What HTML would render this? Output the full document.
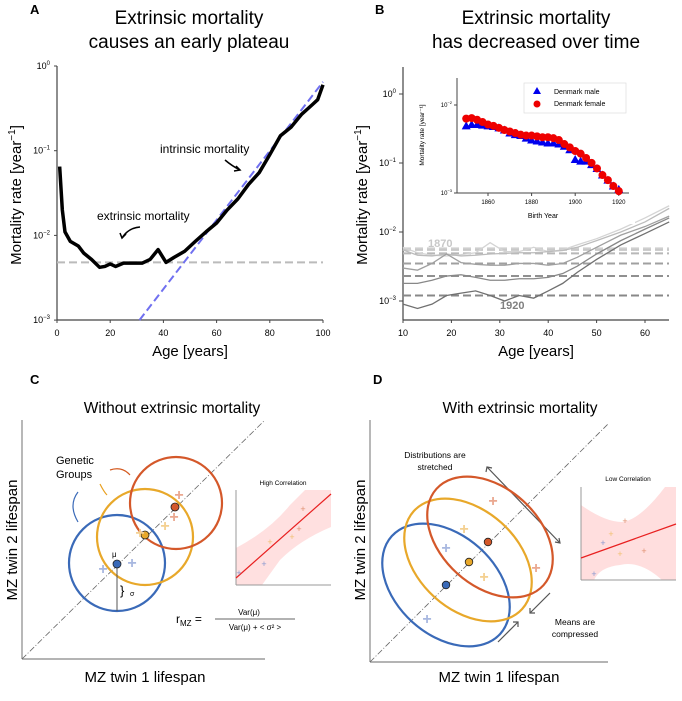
<!DOCTYPE html>
<html><head><meta charset="utf-8"><style>
body{margin:0;background:#fff;}
svg{display:block;font-family:"Liberation Sans",sans-serif;}
</style></head><body>
<svg id="fig" width="682" height="701" viewBox="0 0 682 701" xmlns="http://www.w3.org/2000/svg">
<g id="pa">
<text x="30" y="14" font-size="13" font-weight="bold">A</text>
<text x="189" y="24" font-size="19" text-anchor="middle">Extrinsic mortality</text>
<text x="189" y="48" font-size="19" text-anchor="middle">causes an early plateau</text>
<text transform="translate(21,195) rotate(-90)" font-size="15" text-anchor="middle">Mortality rate [year<tspan font-size="10" dy="-6">−1</tspan><tspan dy="6">]</tspan></text>
<text x="190" y="356" font-size="15" text-anchor="middle">Age [years]</text>
<text x="160" y="153" font-size="12">intrinsic mortality</text>
<text x="97" y="220" font-size="12">extrinsic mortality</text>
<path d="M225,160 Q232,166 240,170" stroke="#000" stroke-width="1.5" fill="none"/>
<path d="M236,166 L240,170 L234,171" stroke="#000" stroke-width="1.5" fill="none"/>
<path d="M140,227 Q128,228 122,238" stroke="#000" stroke-width="1.5" fill="none"/>
<path d="M120,233 L122,238 L126,234" stroke="#000" stroke-width="1.5" fill="none"/>
</g>
<g id="pb">
<text x="375" y="14" font-size="13" font-weight="bold">B</text>
<text x="536" y="24" font-size="19" text-anchor="middle">Extrinsic mortality</text>
<text x="536" y="48" font-size="19" text-anchor="middle">has decreased over time</text>
<text transform="translate(367,195) rotate(-90)" font-size="15" text-anchor="middle">Mortality rate [year<tspan font-size="10" dy="-6">−1</tspan><tspan dy="6">]</tspan></text>
<text x="536" y="356" font-size="15" text-anchor="middle">Age [years]</text>
</g>
<g id="pc">
<text x="30" y="384" font-size="13" font-weight="bold">C</text>
<text x="172" y="413" font-size="15.5" text-anchor="middle">Without extrinsic mortality</text>
<line x1="22" y1="420" x2="22" y2="659" stroke="#888" stroke-width="1.2"/>
<line x1="22" y1="659" x2="265" y2="659" stroke="#888" stroke-width="1.2"/>
<line x1="22" y1="659" x2="265" y2="420" stroke="#666" stroke-width="0.8" stroke-dasharray="6,2,1,2"/>
<text transform="translate(17,540) rotate(-90)" font-size="15" text-anchor="middle">MZ twin 2 lifespan</text>
<text x="145" y="682" font-size="15" text-anchor="middle">MZ twin 1 lifespan</text>
<text x="56" y="464" font-size="11">Genetic</text>
<text x="56" y="478" font-size="11">Groups</text>
<path d="M110,470 Q122,466 130,475" stroke="#d45a20" stroke-width="1.2" fill="none"/>
<path d="M100,484 Q104,492 107,495" stroke="#e8a020" stroke-width="1.2" fill="none"/>
<path d="M78,492 Q68,505 78,522" stroke="#3a6ab8" stroke-width="1.2" fill="none"/>
<circle cx="117" cy="563" r="48" fill="none" stroke="#3a6ab8" stroke-width="2.2"/>
<circle cx="145" cy="537" r="48" fill="none" stroke="#e8a82a" stroke-width="2.2"/>
<circle cx="176" cy="503" r="46" fill="none" stroke="#d4582a" stroke-width="2.2"/>
<line x1="117" y1="565" x2="117" y2="611" stroke="#555" stroke-width="1"/>
<text x="120" y="595" font-size="13">}</text>
<text x="130" y="596" font-size="7">σ</text>
<text x="112" y="557" font-size="8">μ</text>
<circle cx="117" cy="564" r="4" fill="#3a6ab8" stroke="#222" stroke-width="0.8"/>
<circle cx="145" cy="535" r="4" fill="#e8a82a" stroke="#222" stroke-width="0.8"/>
<circle cx="175" cy="507" r="4" fill="#d4582a" stroke="#222" stroke-width="0.8"/>
<g font-size="16" font-weight="bold" text-anchor="middle">
<text x="103" y="574" fill="#a8b8e0">+</text><text x="132" y="568" fill="#a8b8e0">+</text>
<text x="140" y="538" fill="#f4d090">+</text><text x="165" y="531" fill="#f4d090">+</text>
<text x="174" y="522" fill="#eaa890">+</text><text x="179" y="500" fill="#eaa890">+</text>
</g>
<text x="283" y="485" font-size="6.5" text-anchor="middle">High Correlation</text>
<path d="M236,548 Q270,530 290,505 L305,490 L331,490 L331,527 Q300,540 280,560 L262,585 L236,585 Z" fill="#ffd8d8" opacity="0.8"/>
<line x1="236" y1="490" x2="236" y2="585" stroke="#999" stroke-width="1"/>
<line x1="236" y1="585" x2="331" y2="585" stroke="#999" stroke-width="1"/>
<line x1="236" y1="578" x2="331" y2="494" stroke="#e82020" stroke-width="1.2"/>
<g font-size="9" text-anchor="middle">
<text x="239" y="576" fill="#8898d0">+</text><text x="264" y="567" fill="#8898d0">+</text>
<text x="270" y="545" fill="#f0c070">+</text><text x="292" y="540" fill="#f0c070">+</text>
<text x="299" y="532" fill="#e09070">+</text><text x="303" y="512" fill="#e09070">+</text>
</g>
<text x="176" y="623" font-size="12">r<tspan font-size="8" dy="3">MZ</tspan><tspan dy="-3"> =</tspan></text>
<text x="249" y="615" font-size="8" text-anchor="middle">Var(μ)</text>
<line x1="215" y1="619" x2="295" y2="619" stroke="#333" stroke-width="0.8"/>
<text x="255" y="630" font-size="8" text-anchor="middle">Var(μ) +  &lt; σ² &gt;</text>
</g>
<g id="pd">
<text x="373" y="384" font-size="13" font-weight="bold">D</text>
<text x="520" y="413" font-size="15.5" text-anchor="middle">With extrinsic mortality</text>
<line x1="370" y1="420" x2="370" y2="662" stroke="#888" stroke-width="1.2"/>
<line x1="370" y1="662" x2="608" y2="662" stroke="#888" stroke-width="1.2"/>
<line x1="370" y1="662" x2="608" y2="424" stroke="#666" stroke-width="0.8" stroke-dasharray="6,2,1,2"/>
<text transform="translate(365,540) rotate(-90)" font-size="15" text-anchor="middle">MZ twin 2 lifespan</text>
<text x="499" y="682" font-size="15" text-anchor="middle">MZ twin 1 lifespan</text>
<text x="435" y="458" font-size="8.5" text-anchor="middle">Distributions are</text>
<text x="435" y="470" font-size="8.5" text-anchor="middle">stretched</text>
<line x1="487" y1="467" x2="560" y2="543" stroke="#555" stroke-width="1.2"/>
<path d="M486,472 L487,467 L492,468 M555,542 L560,543 L559,538" stroke="#555" stroke-width="1.2" fill="none"/>
<text x="575" y="625" font-size="8.5" text-anchor="middle">Means are</text>
<text x="575" y="637" font-size="8.5" text-anchor="middle">compressed</text>
<line x1="550" y1="593" x2="530" y2="613" stroke="#555" stroke-width="1.2"/>
<path d="M530,608 L530,613 L535,613" stroke="#555" stroke-width="1.2" fill="none"/>
<line x1="498" y1="642" x2="518" y2="622" stroke="#555" stroke-width="1.2"/>
<path d="M513,622 L518,622 L518,627" stroke="#555" stroke-width="1.2" fill="none"/>
<ellipse cx="446" cy="585" rx="73" ry="50" transform="rotate(42 446 585)" fill="none" stroke="#3a6ab8" stroke-width="2.2"/>
<ellipse cx="468" cy="560" rx="73" ry="50" transform="rotate(42 468 560)" fill="none" stroke="#e8a82a" stroke-width="2.2"/>
<ellipse cx="490" cy="537" rx="72" ry="49" transform="rotate(42 490 537)" fill="none" stroke="#d4582a" stroke-width="2.2"/>
<circle cx="446" cy="585" r="3.8" fill="#3a6ab8" stroke="#222" stroke-width="0.8"/>
<circle cx="469" cy="562" r="3.8" fill="#e8a82a" stroke="#222" stroke-width="0.8"/>
<circle cx="488" cy="542" r="3.8" fill="#d4582a" stroke="#222" stroke-width="0.8"/>
<g font-size="16" font-weight="bold" text-anchor="middle">
<text x="427" y="624" fill="#a8b8e0">+</text><text x="446" y="553" fill="#a8b8e0">+</text>
<text x="464" y="534" fill="#f4d090">+</text><text x="484" y="582" fill="#f4d090">+</text>
<text x="493" y="506" fill="#eaa890">+</text><text x="536" y="573" fill="#eaa890">+</text>
</g>
<text x="628" y="481" font-size="6.5" text-anchor="middle">Low Correlation</text>
<path d="M581,505 Q605,522 622,522 Q640,520 665,487 L676,487 L676,580 L662,580 Q640,560 620,565 Q600,567 594,580 L581,580 Z" fill="#ffd8d8" opacity="0.85"/>
<line x1="581" y1="487" x2="581" y2="580" stroke="#999" stroke-width="1"/>
<line x1="581" y1="580" x2="676" y2="580" stroke="#999" stroke-width="1"/>
<line x1="581" y1="558" x2="676" y2="524" stroke="#e82020" stroke-width="1.2"/>
<g font-size="9" text-anchor="middle">
<text x="594" y="577" fill="#8898d0">+</text><text x="603" y="546" fill="#8898d0">+</text>
<text x="611" y="537" fill="#f0c070">+</text><text x="620" y="557" fill="#f0c070">+</text>
<text x="625" y="524" fill="#e09070">+</text><text x="644" y="554" fill="#e09070">+</text>
</g>
</g>
</svg>
<script>
// ---- Panel A data ----
const aAges = [1,2,3,5,8,10,13,16,18,20,22,25,28,32,35,38,41,44,48,52,56,60,64,68,72,76,80,84,88,92,96,98,100];
const aRates = [0.065,0.02,0.011,0.0085,0.0075,0.0062,0.0052,0.0042,0.0043,0.0046,0.0043,0.0047,0.0047,0.0047,0.0052,0.0068,0.0048,0.0055,0.0065,0.0085,0.011,0.014,0.02,0.027,0.04,0.055,0.09,0.15,0.19,0.27,0.35,0.4,0.6];
const aPlateau = [0.0048];
const aIntrinsicAges = [31,100];
const aIntrinsicRates = [0.001,0.65];
const aXTicks = [0,20,40,60,80,100];
const aYTicks = [-3,-2,-1,0];
// ---- Panel B data ----
const bAges = [10,13,16,19,22,25,28,31,34,37,40,43,46,50,55,60,65];
const bC1870 = [0.006,0.005,0.0046,0.0045,0.0047,0.005,0.007,0.0052,0.0052,0.006,0.0052,0.0055,0.0065,0.008,0.011,0.016,0.024];
const bC2 = [0.0055,0.0046,0.0045,0.0048,0.0045,0.0046,0.0048,0.0049,0.005,0.005,0.0052,0.0054,0.006,0.0075,0.01,0.014,0.022];
const bC3 = [0.003,0.0028,0.0035,0.0048,0.0036,0.0034,0.0033,0.0033,0.0035,0.0035,0.0033,0.0035,0.0043,0.006,0.009,0.012,0.017];
const bC4 = [0.0018,0.0018,0.002,0.0023,0.0024,0.0022,0.002,0.002,0.0021,0.0021,0.0022,0.0025,0.0032,0.0048,0.0075,0.011,0.016];
const bC1920 = [0.0009,0.00078,0.0009,0.0012,0.0013,0.0014,0.0012,0.001,0.0012,0.0011,0.0014,0.0018,0.0026,0.004,0.0065,0.0095,0.014];
const bLevels = [0.0058,0.0055,0.0049,0.0035,0.0023,0.0012];
const bXTicks = [10,20,30,40,50,60];
const bYTicks = [-3,-2,-1,0];
// ---- Inset data ----
const insYears = [1850,1852.5,1855,1857.5,1860,1862.5,1865,1867.5,1870,1872.5,1875,1877.5,1880,1882.5,1885,1887.5,1890,1892.5,1895,1897.5,1900,1902.5,1905,1907.5,1910,1912.5,1915,1917.5,1920];
const insFemale = [0.0070,0.0071,0.0068,0.0064,0.006,0.0058,0.0055,0.0052,0.005,0.0048,0.0046,0.0045,0.0045,0.0044,0.0043,0.0043,0.0042,0.004,0.0036,0.0033,0.003,0.0028,0.0025,0.0022,0.0019,0.0016,0.0014,0.0012,0.00105];
const insMale = [0.0058,0.006,0.006,0.0059,0.0058,0.0057,0.0055,0.0052,0.0048,0.0046,0.0045,0.0042,0.004,0.0039,0.0038,0.0037,0.0037,0.0036,0.0034,0.0031,0.0024,0.0023,0.0023,0.0021,0.0019,0.0016,0.0014,0.0012,0.0011];
const insXTicks = [1860,1880,1900,1920];
const insYTicks = [-3,-2];

const NS = "http://www.w3.org/2000/svg";
function mk(parent, tag, attrs){const e=document.createElementNS(NS,tag);for(const k in attrs)e.setAttribute(k,attrs[k]);parent.appendChild(e);return e;}
const pa=document.getElementById('pa'), pb=document.getElementById('pb');
const ax=a=>57+a*2.66, ay=v=>66-Math.log10(v)*84.7;
const bx=a=>403+(a-10)*4.84, by=v=>94-Math.log10(v)*69;
const ix=y=>488+(y-1860)*2.18, iy=v=>105+(-2-Math.log10(v))*88;

let e;
e=mk(pa,'line',{x1:57,y1:66,x2:57,y2:320,stroke:'#444','stroke-width':1.2});


e=mk(pa,'line',{x1:57,y1:320,x2:323,y2:320,stroke:'#444','stroke-width':1.2});


aXTicks.forEach(t=>{mk(pa,'line',{x1:ax(t),y1:320,x2:ax(t),y2:323,stroke:'#444'});
 e=mk(pa,'text',{x:ax(t),y:336,'font-size':9,'text-anchor':'middle'});e.textContent=t;
 
 });
aYTicks.forEach(t=>{const y=66+(-t)*84.7;mk(pa,'line',{x1:54,y1:y,x2:57,y2:y,stroke:'#444'});
 e=mk(pa,'text',{x:50,y:y+3,'font-size':9,'text-anchor':'end'});e.innerHTML='10<tspan font-size="6" dy="-4">'+(t<0?'−'+(-t):t)+'</tspan>';
 
 });
e=mk(pa,'line',{x1:57,y1:ay(aPlateau[0]),x2:323,y2:ay(aPlateau[0]),stroke:'#bbb','stroke-width':2,'stroke-dasharray':'8,4'});


e=mk(pa,'line',{x1:ax(aIntrinsicAges[0]),y1:ay(aIntrinsicRates[0]),x2:ax(aIntrinsicAges[1]),y2:ay(aIntrinsicRates[1]),stroke:'#7070f0','stroke-width':2,'stroke-dasharray':'8,4'});


e=mk(pa,'polyline',{points:aAges.map((a,i)=>ax(a)+','+ay(aRates[i])).join(' '),fill:'none',stroke:'#000','stroke-width':3.5,'stroke-linejoin':'round'});



e=mk(pb,'line',{x1:403,y1:67,x2:403,y2:320,stroke:'#444','stroke-width':1.2});


e=mk(pb,'line',{x1:403,y1:320,x2:669,y2:320,stroke:'#444','stroke-width':1.2});


bXTicks.forEach(t=>{mk(pb,'line',{x1:bx(t),y1:320,x2:bx(t),y2:323,stroke:'#444'});
 e=mk(pb,'text',{x:bx(t),y:336,'font-size':9,'text-anchor':'middle'});e.textContent=t;
 
 });
bYTicks.forEach(t=>{const y=94+(-t)*69;mk(pb,'line',{x1:399,y1:y,x2:403,y2:y,stroke:'#444'});
 e=mk(pb,'text',{x:396,y:y+3,'font-size':9,'text-anchor':'end'});e.innerHTML='10<tspan font-size="6" dy="-4">'+(t<0?'−'+(-t):t)+'</tspan>';
 
 });
const bLevelCols=['#d0d0d0','#c8c8c8','#b8b8b8','#a0a0a0','#909090','#888'];
bLevels.forEach((v,i)=>{e=mk(pb,'line',{x1:403,y1:by(v),x2:669,y2:by(v),stroke:bLevelCols[i],'stroke-width':2,'stroke-dasharray':'8,4'});
 
 });
const bSeries=[bC1870,bC2,bC3,bC4,bC1920], bCols=['#d4d4d4','#bcbcbc','#a0a0a0','#888','#707070'];
bSeries.forEach((s,i)=>{e=mk(pb,'polyline',{points:bAges.map((a,j)=>bx(a)+','+by(s[j])).join(' '),fill:'none',stroke:bCols[i],'stroke-width':1.3});
 
 });
e=mk(pb,'text',{x:428,y:247,'font-size':11,'font-weight':'bold',fill:'#c8c8c8'});e.textContent='1870';


e=mk(pb,'text',{x:500,y:309,'font-size':11,'font-weight':'bold',fill:'#808080'});e.textContent='1920';


e=mk(pb,'rect',{x:415,y:72,width:220,height:152,fill:'#fff'});


mk(pb,'line',{x1:457,y1:78,x2:457,y2:193,stroke:'#444'});
mk(pb,'line',{x1:457,y1:193,x2:629,y2:193,stroke:'#444'});
insXTicks.forEach(t=>{mk(pb,'line',{x1:ix(t),y1:193,x2:ix(t),y2:196,stroke:'#444'});
 e=mk(pb,'text',{x:ix(t),y:204,'font-size':6,'text-anchor':'middle'});e.textContent=t;
 
 });
insYTicks.forEach(t=>{const y=105+(-2-t)*88;mk(pb,'line',{x1:454,y1:y,x2:457,y2:y,stroke:'#444'});
 e=mk(pb,'text',{x:452,y:y+2,'font-size':6,'text-anchor':'end'});e.innerHTML='10<tspan font-size="4" dy="-3">−'+(-t)+'</tspan>';
 
 });
e=mk(pb,'text',{transform:'translate(424,135) rotate(-90)','font-size':6.5,'text-anchor':'middle'});e.textContent='Mortality rate [year⁻¹]';


e=mk(pb,'text',{x:543,y:218,'font-size':7,'text-anchor':'middle'});e.textContent='Birth Year';


insYears.forEach((yr,i)=>{const x=ix(yr),y=iy(insMale[i]);
 e=mk(pb,'polygon',{points:`${x},${y-4.5} ${x-4.5},${y+3.5} ${x+4.5},${y+3.5}`,fill:'#0000ee'});
 
 });
insYears.forEach((yr,i)=>{e=mk(pb,'circle',{cx:ix(yr),cy:iy(insFemale[i]),r:4,fill:'#ee0000'});
 
 });
e=mk(pb,'rect',{x:524,y:83,width:102,height:30,fill:'#fff',stroke:'#ddd','stroke-width':0.7});


mk(pb,'polygon',{points:'537,87 533,94 541,94',fill:'#0000ee'});
mk(pb,'circle',{cx:537,cy:104,r:3.5,fill:'#ee0000'});
e=mk(pb,'text',{x:554,y:94,'font-size':7});e.textContent='Denmark male';


e=mk(pb,'text',{x:554,y:106,'font-size':7});e.textContent='Denmark female';


</script>
</body></html>
